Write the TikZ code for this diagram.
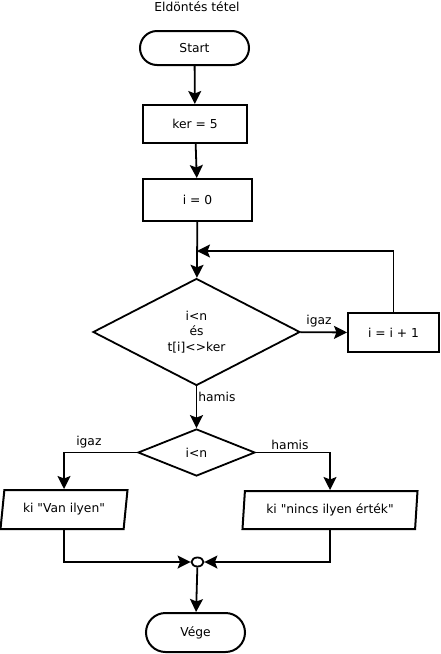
\documentclass[tikz,border=0pt]{standalone}
\usepackage{fontspec}
\setmainfont{DejaVu Sans}
\usetikzlibrary{arrows.meta, calc, positioning, shapes.geometric, shapes.misc}

\tikzset{
  terminal/.style={draw, line width=2pt, rounded rectangle, inner sep=0pt},
  box/.style={draw, line width=2pt, rectangle, inner sep=0pt},
  decision/.style={draw, line width=1.8pt, diamond, aspect=2, inner sep=0pt, align=center},
  output/.style={draw, line width=2pt, trapezium, trapezium stretches body, inner sep=0pt},
  flow/.style={-{Stealth[length=13pt, width=13pt, inset=2.5pt]}, line width=1.8pt},
  lbl/.style={inner sep=1pt}
}

\begin{document}
\begin{tikzpicture}[x=1pt, y=-1pt, font=\fontsize{12.3}{15.5}\selectfont]
\useasboundingbox (0,0) rectangle (440,654);

% Title
\node (title) at (197,7) {Eldöntés tétel};

% Start and init
\node[terminal, minimum width=109pt, minimum height=34pt] (start) at (194.5,48) {Start};
\node[box, minimum width=104pt, minimum height=38pt] (ker) at (195,124) {ker = 5};
\node[box, minimum width=109pt, minimum height=42pt] (init) at (197.5,200) {i = 0};

% Loop
\node[decision, minimum width=207pt, minimum height=107pt] (cond) at (196.5,332) {i<n\\és\\t[i]<>ker};
\node[box, minimum width=91pt, minimum height=39pt] (incr) at (393.5,332.5) {i = i + 1};
\coordinate (back) at (197,251);

% Second test
\node[decision, minimum width=117pt, minimum height=47pt] (found) at (196.5,452.5) {i<n};

% Outputs
\node[output, trapezium left angle=72, trapezium right angle=108,
      minimum width=127pt, minimum height=39pt] (yes) at (64,509.5) {ki \textquotedbl Van ilyen\textquotedbl};
\node[output, trapezium left angle=79, trapezium right angle=101,
      minimum width=175pt, minimum height=38pt] (no) at (330,510) {ki \textquotedbl nincs ilyen érték\textquotedbl};

% Merge and end
\node[draw, ellipse, line width=1.8pt, minimum width=12pt, minimum height=9pt, inner sep=0pt] (merge) at (197.5,562) {};
\node[terminal, minimum width=99pt, minimum height=39pt] (stop) at (195.5,632.5) {Vége};

% Arrows
\draw[flow] (start) -- (ker);
\draw[flow] (ker) -- (init);
\draw[flow] (init) -- (cond);
\draw[flow] (cond) -- node[lbl, above=3pt, pos=0.4] {igaz} (incr);
\draw[flow] (incr.north) |- (back);
\draw[flow] (cond) -- node[lbl, anchor=west, pos=0.26] {hamis} (found);
\draw[flow] (found.west) -| node[lbl, above=3pt, pos=0.33] {igaz} (yes.north);
\draw[flow] (found.east) -| node[lbl, above=1pt, pos=0.23] {hamis} (no.north);
\draw[flow] (yes.south) |- (merge.west);
\draw[flow] (no.south) |- (merge.east);
\draw[flow] (merge) -- (stop);
\end{tikzpicture}
\end{document}
